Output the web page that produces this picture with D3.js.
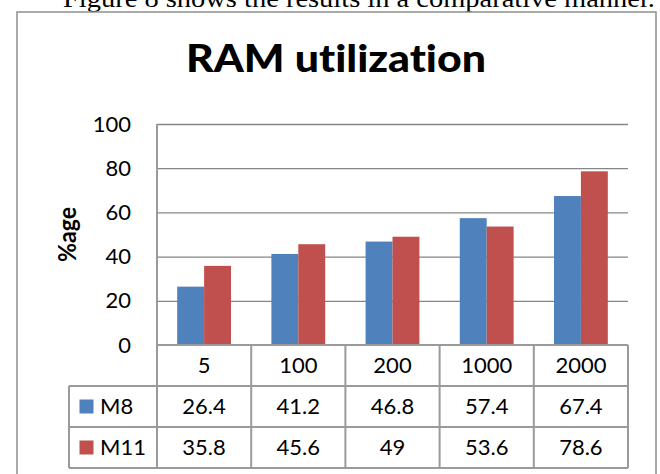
<!DOCTYPE html>
<html>
<head>
<meta charset="utf-8">
<script src="https://cdn.jsdelivr.net/npm/d3@7"></script>
<style>
  html, body { margin: 0; padding: 0; background: #fff; }
  svg { display: block; }
  text { font-family: Lato, "Open Sans", sans-serif; fill: #000; font-variant-ligatures: none; }
</style>
</head>
<body>
<svg id="chart" width="660" height="474"></svg>
<script>
// RAM utilization data (percent)
const categories = ["5", "100", "200", "1000", "2000"];
const seriesNames = ["M8", "M11"];
const m8Values = [26.4, 41.2, 46.8, 57.4, 67.4];
const m11Values = [35.8, 45.6, 49, 53.6, 78.6];
const seriesColors = ["#4F81BD", "#C0504D"];
const yTickValues = [0, 20, 40, 60, 80, 100];
const chartTitle = "RAM utilization";
const yAxisTitle = "%age";
const captionText = "Figure 8 shows the results in a comparative manner.";

const series = seriesNames.map((name, i) => ({
  name,
  color: seriesColors[i],
  values: [m8Values, m11Values][i]
}));

const svg = d3.select("#chart");

// Plot geometry
const plot = { left: 157, right: 628, top: 124, bottom: 345 };
const rowH = 41;
const legendLeft = 69;
const gridColor = "#868686";
const tableColor = "#9a9a9a";
const labelSize = "22px";

// Caption line above the chart frame (partly cut off at the top edge)
svg.append("text")
  .attr("x", 63).attr("y", 7)
  .attr("textLength", 592).attr("lengthAdjust", "spacingAndGlyphs")
  .style("font-family", "'Liberation Serif', 'Times New Roman', serif")
  .style("font-size", "25px")
  .text(captionText);

// Chart frame
svg.append("rect")
  .attr("x", 17).attr("y", 12)
  .attr("width", 639).attr("height", 480)
  .attr("fill", "none").attr("stroke", "#8e8e8e").attr("stroke-width", 1.5);

// Title
svg.append("text")
  .attr("x", 186).attr("y", 72)
  .attr("textLength", 300).attr("lengthAdjust", "spacingAndGlyphs")
  .style("font-size", "37px").style("font-weight", "900")
  .text(chartTitle);

// Scales
const x = d3.scaleBand().domain(categories).range([plot.left, plot.right]).paddingInner(0).paddingOuter(0);
const xSeries = d3.scaleBand().domain(seriesNames).range([0, x.bandwidth()]).paddingInner(0).paddingOuter(0.75);
const y = d3.scaleLinear().domain([0, 100]).range([plot.bottom, plot.top]);

// Horizontal gridlines
const grid = svg.append("g")
  .attr("transform", `translate(${plot.left},0)`)
  .call(d3.axisLeft(y).tickValues(yTickValues.filter(v => v > 0)).tickSize(-(plot.right - plot.left)).tickFormat(""));
grid.select(".domain").remove();
grid.selectAll(".tick line").attr("stroke", gridColor).attr("stroke-width", 1.3);

// Y axis labels
const yAxis = svg.append("g")
  .attr("transform", `translate(${plot.left},0)`)
  .call(d3.axisLeft(y).tickValues(yTickValues).tickSize(0).tickPadding(26));
yAxis.select(".domain").remove();
yAxis.selectAll(".tick text")
  .style("font-family", "Lato, 'Open Sans', sans-serif")
  .style("font-size", labelSize).attr("fill", "#000");

// Y axis title
svg.append("text")
  .attr("transform", `translate(76,${(plot.top + plot.bottom) / 2}) rotate(-90)`)
  .attr("text-anchor", "middle")
  .attr("textLength", 55).attr("lengthAdjust", "spacingAndGlyphs")
  .style("font-size", "24px").style("font-weight", "bold")
  .text(yAxisTitle);

// Bars
const groups = svg.append("g").selectAll("g")
  .data(series).join("g")
  .attr("fill", d => d.color);
groups.selectAll("rect")
  .data(s => s.values.map((v, i) => ({ name: s.name, cat: categories[i], v })))
  .join("rect")
  .attr("x", d => x(d.cat) + xSeries(d.name))
  .attr("width", xSeries.bandwidth())
  .attr("y", d => y(d.v))
  .attr("height", d => y(0) - y(d.v));

// Data table below the plot
const table = svg.append("g");
const tableBottom = plot.bottom + rowH * 3;

// Y axis line continues as the first table column line
table.append("line")
  .attr("x1", plot.left).attr("x2", plot.left)
  .attr("y1", plot.top).attr("y2", plot.bottom);

// Horizontal table rules
table.append("line")
  .attr("x1", plot.left).attr("x2", plot.right)
  .attr("y1", plot.bottom).attr("y2", plot.bottom);
[1, 2, 3].forEach(r => {
  table.append("line")
    .attr("x1", legendLeft).attr("x2", plot.right)
    .attr("y1", plot.bottom + rowH * r).attr("y2", plot.bottom + rowH * r);
});

// Vertical table rules
categories.forEach(c => {
  table.append("line")
    .attr("x1", x(c)).attr("x2", x(c))
    .attr("y1", plot.bottom).attr("y2", tableBottom);
});
table.append("line")
  .attr("x1", plot.right).attr("x2", plot.right)
  .attr("y1", plot.bottom).attr("y2", tableBottom);
table.append("line")
  .attr("x1", legendLeft).attr("x2", legendLeft)
  .attr("y1", plot.bottom + rowH).attr("y2", tableBottom);

table.selectAll("line").attr("stroke", tableColor).attr("stroke-width", 2);

// Category header row
table.selectAll("text.cat")
  .data(categories).join("text")
  .attr("class", "cat")
  .attr("x", d => x(d) + x.bandwidth() / 2)
  .attr("y", plot.bottom + rowH / 2)
  .attr("text-anchor", "middle").attr("dy", "0.36em")
  .style("font-size", labelSize)
  .text(d => d);

// Series rows: legend key, name, values
series.forEach((s, r) => {
  const cy = plot.bottom + rowH * (r + 1) + rowH / 2;
  table.append("rect")
    .attr("x", 79.5).attr("y", cy - 7)
    .attr("width", 14).attr("height", 14)
    .attr("fill", s.color);
  table.append("text")
    .attr("x", 100).attr("y", cy).attr("dy", "0.36em")
    .style("font-size", labelSize)
    .text(s.name);
  table.selectAll(null)
    .data(s.values).join("text")
    .attr("x", (d, i) => x(categories[i]) + x.bandwidth() / 2)
    .attr("y", cy).attr("dy", "0.36em")
    .attr("text-anchor", "middle")
    .style("font-size", labelSize)
    .text(d => d);
});
</script>
</body>
</html>
